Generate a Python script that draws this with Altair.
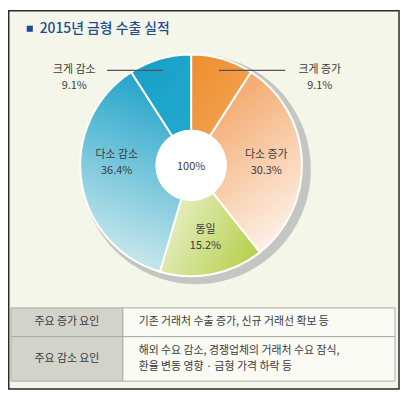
import altair as alt
import pandas as pd

# ---------------- data ----------------
title_text = "2015년 금형 수출 실적"
categories = ["크게 증가", "다소 증가", "동일", "다소 감소", "크게 감소"]
values = [9.1, 30.3, 15.2, 36.4, 9.1]
pct_labels = ["9.1%", "30.3%", "15.2%", "36.4%", "9.1%"]
center_label = "100%"
table_heads = ["주요 증가 요인", "주요 감소 요인"]
table_row1 = ["기존 거래처 수출 증가, 신규 거래선 확보 등"]
table_row2 = ["해외 수요 감소, 경쟁업체의 거래처 수요 잠식,", "환율 변동 영향 · 금형 가격 하락 등"]

# ---------------- style ----------------
FONT = "Noto Sans CJK KR"
CX, CY = 185, 157
R, R0 = 112, 35
BG = "#f4f6ea"
TXT = "#3a3a3a"

gradients = {
    "크게 증가": ("#ee8d2c", "#f3a85c", 0, 0, 1, 1),
    "다소 증가": ("#f3a566", "#fdf4ec", 0.3, 0, 0.7, 1),
    "동일": ("#e9f0c8", "#b6cf4c", 0, 0.3, 1, 0.7),
    "다소 감소": ("#1fa2c9", "#d3ecee", 0.6, 0, 0.4, 1),
    "크게 감소": ("#16a0c8", "#22a8cc", 0, 0, 1, 1),
}

df = pd.DataFrame({"cat": categories, "value": values, "pct": pct_labels,
                   "idx": list(range(len(categories)))})
one = pd.DataFrame({"a": [0]})

base = (
    alt.Chart(df)
    .transform_joinaggregate(total="sum(value)")
    .transform_window(cum="sum(value)", sort=[alt.SortField("idx")], frame=[None, 0])
    .transform_calculate(
        t0="(datum.cum - datum.value) / datum.total * 2 * PI",
        t1="datum.cum / datum.total * 2 * PI",
        tm="(datum.cum - datum.value / 2) / datum.total * 2 * PI",
    )
    .transform_calculate(
        side="sin(datum.tm) > 0 ? 1 : -1",
        outer="datum.value < 10",
    )
    .transform_calculate(
        lx=f"datum.outer ? (datum.side > 0 ? {CX} + 130 : {CX} - 118) : {CX} + 76 * sin(datum.tm)",
        ny=(f"datum.outer ? {CY} - 100 * cos(datum.tm) : "
            f"(abs(cos(datum.tm)) < 0.5 ? {CY} - 10 : {CY} - 75 * cos(datum.tm) - 8)"),
        rx=f"{CX} + 100 * sin(datum.tm)",
        rx2=f"datum.side > 0 ? {CX} + 95 : {CX} - 85",
        ry=f"{CY} - 100 * cos(datum.tm)",
    )
    .transform_calculate(py="datum.ny + 16")
)

frame = alt.Chart(one).mark_rect(fill=BG, stroke="#2b2b2b", strokeWidth=1.5).encode(
    x=alt.value(0.75), x2=alt.value(395), y=alt.value(0.75), y2=alt.value(383)
)

title_sq = alt.Chart(one).mark_square(size=38, fill="#1d4c8f", opacity=1).encode(
    x=alt.value(22), y=alt.value(19)
)
title = alt.Chart(one).mark_text(
    text=title_text, font=FONT, fontSize=14, fontWeight=500, color="#1d4c8f",
    align="left", baseline="middle"
).encode(x=alt.value(32), y=alt.value(19))

# symbol size is the area of the bounding square: (2r)^2
shadow = alt.Chart(one).mark_circle(size=(2 * 116) ** 2, fill="#c4c6c2", opacity=1).encode(
    x=alt.value(CX + 5), y=alt.value(CY + 4)
)

slices = []
for c in categories:
    g = gradients[c]
    grad = alt.LinearGradient(
        gradient="linear",
        stops=[alt.GradientStop(color=g[0], offset=0), alt.GradientStop(color=g[1], offset=1)],
        x1=g[2], y1=g[3], x2=g[4], y2=g[5],
    )
    slices.append(
        base.transform_filter(alt.datum.cat == c)
        .mark_arc(innerRadius=R0, outerRadius=R, stroke="white", strokeWidth=2, fill=grad)
        .encode(
            theta=alt.Theta("t0:Q", scale=None, stack=None),
            theta2="t1:Q",
            x=alt.value(CX),
            y=alt.value(CY),
        )
    )

hole = alt.Chart(one).mark_circle(size=(2 * 36) ** 2, fill="white", opacity=1).encode(
    x=alt.value(CX), y=alt.value(CY)
)
center_txt = alt.Chart(one).mark_text(
    text=center_label, font=FONT, fontSize=11, color=TXT
).encode(x=alt.value(CX), y=alt.value(CY + 2))

leaders = base.transform_filter("datum.outer").mark_rule(color="#555555", strokeWidth=1.5).encode(
    x=alt.X("rx:Q", scale=None), x2="rx2:Q", y=alt.Y("ry:Q", scale=None), y2="ry:Q"
)
name_txt = base.mark_text(font=FONT, fontSize=11, color=TXT, baseline="middle").encode(
    x=alt.X("lx:Q", scale=None), y=alt.Y("ny:Q", scale=None), text="cat:N"
)
pct_txt = base.mark_text(font=FONT, fontSize=11, color=TXT, baseline="middle").encode(
    x=alt.X("lx:Q", scale=None), y=alt.Y("py:Q", scale=None), text="pct:N"
)

# ---------------- table ----------------
TL, TM, TR = 3, 116, 391
T0, T1, T2 = 301, 330, 375
cell_l1 = alt.Chart(one).mark_rect(fill="#d2d3cb", stroke="#a9aaa2", strokeWidth=1).encode(
    x=alt.value(TL), x2=alt.value(TM), y=alt.value(T0), y2=alt.value(T1))
cell_l2 = alt.Chart(one).mark_rect(fill="#d2d3cb", stroke="#a9aaa2", strokeWidth=1).encode(
    x=alt.value(TL), x2=alt.value(TM), y=alt.value(T1), y2=alt.value(T2))
cell_r1 = alt.Chart(one).mark_rect(fill="#fbfbf6", stroke="#a9aaa2", strokeWidth=1).encode(
    x=alt.value(TM), x2=alt.value(TR), y=alt.value(T0), y2=alt.value(T1))
cell_r2 = alt.Chart(one).mark_rect(fill="#fbfbf6", stroke="#a9aaa2", strokeWidth=1).encode(
    x=alt.value(TM), x2=alt.value(TR), y=alt.value(T1), y2=alt.value(T2))

head1 = alt.Chart(one).mark_text(text=table_heads[0], font=FONT, fontSize=11, color=TXT,
                                 baseline="middle").encode(x=alt.value((TL + TM) / 2), y=alt.value((T0 + T1) / 2))
head2 = alt.Chart(one).mark_text(text=table_heads[1], font=FONT, fontSize=11, color=TXT,
                                 baseline="middle").encode(x=alt.value((TL + TM) / 2), y=alt.value((T1 + T2) / 2))
row1 = alt.Chart(one).mark_text(text=table_row1[0], font=FONT, fontSize=11, color=TXT,
                                align="left", baseline="middle").encode(x=alt.value(TM + 16), y=alt.value((T0 + T1) / 2))
row2a = alt.Chart(one).mark_text(text=table_row2[0], font=FONT, fontSize=11, color=TXT,
                                 align="left", baseline="middle").encode(x=alt.value(TM + 16), y=alt.value((T1 + T2) / 2 - 8))
row2b = alt.Chart(one).mark_text(text=table_row2[1], font=FONT, fontSize=11, color=TXT,
                                 align="left", baseline="middle").encode(x=alt.value(TM + 16), y=alt.value((T1 + T2) / 2 + 8))

chart = alt.layer(
    frame, title_sq, title, shadow, *slices, hole, center_txt, leaders, name_txt, pct_txt,
    cell_l1, cell_l2, cell_r1, cell_r2, head1, head2, row1, row2a, row2b,
).properties(
    width=396, height=384, padding=0, autosize=alt.AutoSizeParams(type="none"),
    background="white",
).configure_view(strokeWidth=0)

chart.save("out.html", embed_options={"renderer": "svg", "actions": False})
